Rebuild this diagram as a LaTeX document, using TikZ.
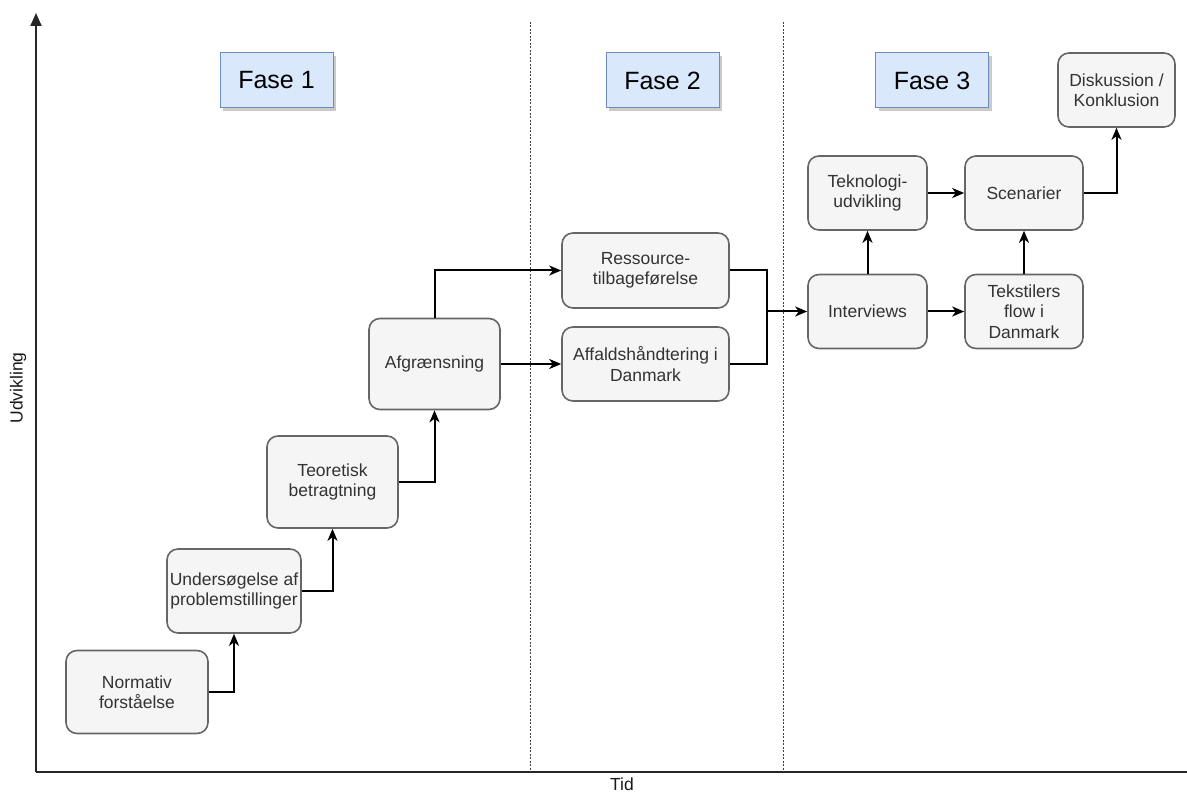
\documentclass[tikz,border=0pt]{standalone}
\usepackage{fontspec}
\setmainfont{Liberation Sans}
\usetikzlibrary{arrows.meta,shadows,calc}
\definecolor{boxfill}{HTML}{F5F5F5}
\definecolor{boxline}{HTML}{666666}
\definecolor{boxtext}{HTML}{333333}
\definecolor{fasefill}{HTML}{DAE8FC}
\definecolor{faseline}{HTML}{6C8EBF}
\tikzset{
  stepbox/.style={draw=boxline, fill=boxfill, line width=1.6pt, rounded corners=11pt,
    text=boxtext, align=center, inner sep=0pt, font=\fontsize{17.5}{20.5}\selectfont},
  fasebox/.style={draw=faseline, fill=fasefill, line width=1pt, inner sep=0pt,
    minimum width=113pt, minimum height=55pt, font=\fontsize{25}{28}\selectfont,
    drop shadow={shadow xshift=3pt, shadow yshift=-3pt, opacity=0.35, fill=black!60}},
  flow/.style={line width=2pt, -{Stealth[length=12pt,width=10pt,inset=3.5pt]}},
  link/.style={line width=2pt},
  axis/.style={line width=2pt, draw=black!85},
  phaseline/.style={line width=0.8pt, draw=black!75, dash pattern=on 2pt off 1.5pt},
  axislabel/.style={font=\fontsize{17.5}{20}\selectfont, text=black!90, inner sep=0pt}
}
\begin{document}
\begin{tikzpicture}[x=1pt,y=-1pt]
\useasboundingbox (0,0) rectangle (1187,794);

% axes
\coordinate (origin) at (36,772);
\coordinate (ytop) at (36,13);
\coordinate (xend) at (1187,772);
\draw[axis, -{Triangle[length=13pt,width=11pt]}] (origin) -- (ytop);
\draw[axis] (origin) -- (xend);
\node[axislabel, rotate=90] (ylab) at (18,388) {Udvikling};
\node[axislabel] (xlab) at (622,784) {Tid};

% phase separators
\coordinate (s1top) at (530,22);
\coordinate (s1bot) at (530,772);
\coordinate (s2top) at (783,22);
\coordinate (s2bot) at (783,772);
\draw[phaseline] (s1top) -- (s1bot);
\draw[phaseline] (s2top) -- (s2bot);

% phase headings
\node[fasebox] (fase1) at (276.5,80.5) {Fase 1};
\node[fasebox] (fase2) at (662.5,80.5) {Fase 2};
\node[fasebox] (fase3) at (932,80.5) {Fase 3};

% steps
\node[stepbox, minimum width=142pt, minimum height=83pt] (norm) at (137,692) {Normativ\\forståelse};
\node[stepbox, minimum width=134pt, minimum height=84pt] (unders) at (234,591) {Undersøgelse af\\problemstillinger};
\node[stepbox, minimum width=131pt, minimum height=92pt] (teor) at (332.5,482) {Teoretisk\\betragtning};
\node[stepbox, minimum width=131pt, minimum height=91pt] (afgr) at (434.5,364) {Afgrænsning};
\node[stepbox, minimum width=167pt, minimum height=75pt] (ress) at (645.5,270.5) {Ressource-\\tilbageførelse};
\node[stepbox, minimum width=167pt, minimum height=74pt] (affald) at (645.5,364) {Affaldshåndtering i\\Danmark};
\node[stepbox, minimum width=119pt, minimum height=74pt] (interv) at (867.5,311.5) {Interviews};
\node[stepbox, minimum width=119pt, minimum height=74pt] (tekno) at (867.5,193) {Teknologi-\\udvikling};
\node[stepbox, minimum width=118pt, minimum height=74pt] (scen) at (1024,193) {Scenarier};
\node[stepbox, minimum width=118pt, minimum height=74pt] (tekst) at (1024,311.5) {Tekstilers\\flow i\\Danmark};
\node[stepbox, minimum width=117pt, minimum height=74pt] (disk) at (1116.5,90) {Diskussion /\\Konklusion};

% connectors
\draw[flow] (norm.east) -| (unders.south);
\draw[flow] (unders.east) -| (teor.south);
\draw[flow] (teor.east) -| (afgr.south);
\draw[flow] (afgr.north) |- (ress.west);
\draw[flow] (afgr.east) -- (affald.west);
\coordinate (merge) at ($(interv.west)+(-40,0)$);
\draw[link] (ress.east) -| (merge);
\draw[link] (affald.east) -| (merge);
\draw[flow] (merge) -- (interv.west);
\draw[flow] (interv.north) -- (tekno.south);
\draw[flow] (tekno.east) -- (scen.west);
\draw[flow] (interv.east) -- (tekst.west);
\draw[flow] (tekst.north) -- (scen.south);
\draw[flow] (scen.east) -| (disk.south);
\end{tikzpicture}
\end{document}
